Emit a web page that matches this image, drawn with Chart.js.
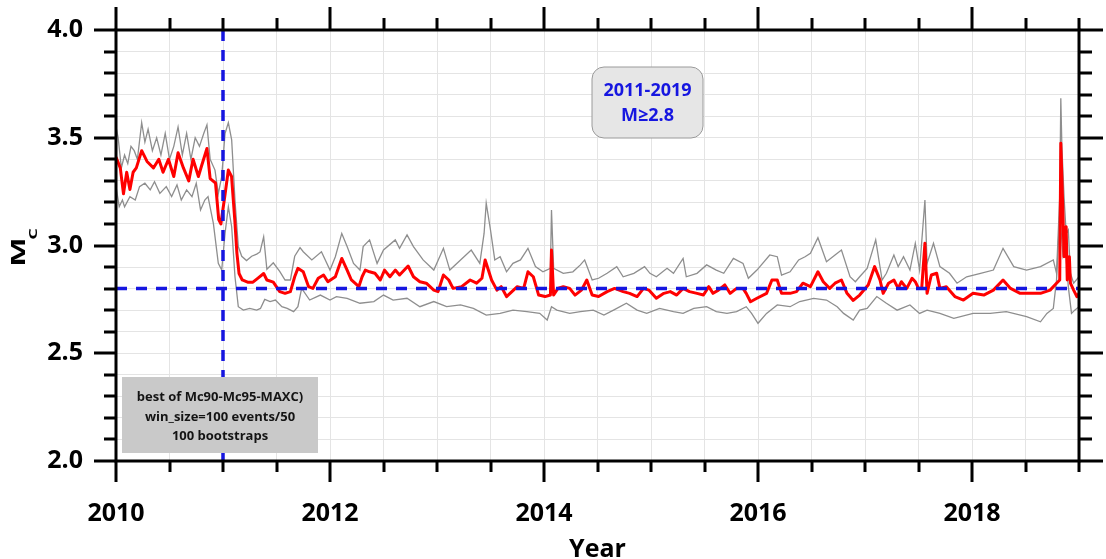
<!DOCTYPE html>
<html>
<head>
<meta charset="utf-8">
<title>Mc time series 2010-2019</title>
<script src="https://cdn.jsdelivr.net/npm/chart.js@4.4.1/dist/chart.umd.min.js"></script>
<style>
  html, body { margin: 0; padding: 0; background: #ffffff; }
  canvas { display: block; }
</style>
</head>
<body>
<canvas id="mcChart" width="1106" height="559"></canvas>
<script>
// [year, Mc]
const mcSeries = [
  [2010.00, 3.41], [2010.04, 3.36], [2010.07, 3.24], [2010.10, 3.34], [2010.13, 3.26], [2010.16, 3.34],
  [2010.19, 3.36], [2010.24, 3.44], [2010.29, 3.39], [2010.35, 3.36], [2010.40, 3.40], [2010.44, 3.34],
  [2010.49, 3.40], [2010.54, 3.32], [2010.58, 3.43], [2010.63, 3.36], [2010.68, 3.30], [2010.72, 3.40],
  [2010.77, 3.32], [2010.80, 3.37], [2010.85, 3.45], [2010.88, 3.31], [2010.93, 3.29], [2010.96, 3.12],
  [2010.98, 3.10], [2011.02, 3.24], [2011.05, 3.35], [2011.08, 3.32], [2011.11, 3.12], [2011.13, 2.965],
  [2011.15, 2.87], [2011.18, 2.84], [2011.23, 2.83], [2011.28, 2.83], [2011.33, 2.85], [2011.38, 2.87],
  [2011.41, 2.84], [2011.47, 2.83], [2011.53, 2.786], [2011.58, 2.778], [2011.63, 2.786], [2011.67, 2.855],
  [2011.70, 2.894], [2011.75, 2.878], [2011.80, 2.809], [2011.84, 2.801], [2011.89, 2.848], [2011.94, 2.863],
  [2011.98, 2.832], [2012.05, 2.855], [2012.11, 2.94], [2012.16, 2.886], [2012.20, 2.84], [2012.27, 2.809],
  [2012.30, 2.855], [2012.33, 2.886], [2012.37, 2.878], [2012.42, 2.871], [2012.47, 2.84], [2012.51, 2.886],
  [2012.56, 2.855], [2012.61, 2.886], [2012.65, 2.863], [2012.73, 2.905], [2012.78, 2.855], [2012.84, 2.832],
  [2012.90, 2.825], [2012.97, 2.793], [2013.01, 2.786], [2013.06, 2.863], [2013.11, 2.84], [2013.15, 2.801],
  [2013.23, 2.809], [2013.31, 2.84], [2013.37, 2.825], [2013.42, 2.848], [2013.45, 2.933], [2013.48, 2.886],
  [2013.51, 2.84], [2013.56, 2.793], [2013.60, 2.809], [2013.65, 2.763], [2013.70, 2.786], [2013.75, 2.809],
  [2013.81, 2.801], [2013.85, 2.878], [2013.90, 2.855], [2013.95, 2.77], [2014.01, 2.763], [2014.06, 2.77],
  [2014.07, 2.979], [2014.09, 2.77], [2014.13, 2.801], [2014.18, 2.809], [2014.24, 2.801], [2014.29, 2.77],
  [2014.35, 2.793], [2014.40, 2.84], [2014.45, 2.77], [2014.51, 2.763], [2014.59, 2.786], [2014.66, 2.801],
  [2014.74, 2.786], [2014.80, 2.778], [2014.87, 2.763], [2014.93, 2.801], [2014.98, 2.793], [2015.05, 2.755],
  [2015.12, 2.778], [2015.18, 2.786], [2015.24, 2.77], [2015.30, 2.801], [2015.36, 2.786], [2015.43, 2.778],
  [2015.49, 2.77], [2015.54, 2.809], [2015.58, 2.778], [2015.63, 2.793], [2015.69, 2.817], [2015.74, 2.778],
  [2015.80, 2.801], [2015.86, 2.801], [2015.89, 2.778], [2015.93, 2.739], [2015.99, 2.755], [2016.08, 2.778],
  [2016.13, 2.84], [2016.18, 2.84], [2016.22, 2.778], [2016.30, 2.778], [2016.36, 2.786], [2016.42, 2.825],
  [2016.49, 2.809], [2016.56, 2.878], [2016.61, 2.832], [2016.67, 2.801], [2016.72, 2.825], [2016.78, 2.84],
  [2016.83, 2.78], [2016.89, 2.745], [2016.95, 2.77], [2017.03, 2.817], [2017.09, 2.902], [2017.14, 2.84],
  [2017.17, 2.778], [2017.22, 2.825], [2017.27, 2.84], [2017.31, 2.801], [2017.34, 2.832], [2017.39, 2.801],
  [2017.44, 2.848], [2017.47, 2.832], [2017.50, 2.801], [2017.53, 2.801], [2017.56, 3.01], [2017.58, 2.778],
  [2017.62, 2.863], [2017.67, 2.871], [2017.70, 2.801], [2017.76, 2.809], [2017.84, 2.763], [2017.92, 2.747],
  [2018.01, 2.778], [2018.11, 2.77], [2018.20, 2.793], [2018.29, 2.84], [2018.36, 2.801], [2018.45, 2.778],
  [2018.54, 2.778], [2018.64, 2.778], [2018.73, 2.793], [2018.79, 2.825], [2018.82, 2.84], [2018.83, 3.474],
  [2018.85, 3.149], [2018.86, 2.948], [2018.88, 3.087], [2018.89, 2.84], [2018.91, 2.948], [2018.92, 2.825],
  [2018.95, 2.793], [2018.98, 2.763], [2019.00, 2.778]
];

// upper bound (Mc + std)
const upperSeries = [
  [2010.00, 3.55], [2010.02, 3.50], [2010.05, 3.36], [2010.08, 3.42], [2010.11, 3.38], [2010.14, 3.46],
  [2010.17, 3.44], [2010.20, 3.40], [2010.24, 3.57], [2010.27, 3.48], [2010.30, 3.54], [2010.34, 3.44],
  [2010.38, 3.50], [2010.42, 3.42], [2010.46, 3.52], [2010.50, 3.40], [2010.54, 3.46], [2010.58, 3.55],
  [2010.62, 3.42], [2010.66, 3.52], [2010.70, 3.40], [2010.74, 3.50], [2010.78, 3.46], [2010.82, 3.52],
  [2010.85, 3.56], [2010.88, 3.40], [2010.925, 3.35], [2010.956, 3.24], [2010.988, 3.32], [2011.019, 3.52],
  [2011.05, 3.57], [2011.081, 3.49], [2011.112, 3.21], [2011.143, 2.995], [2011.175, 2.95], [2011.22, 2.93],
  [2011.268, 2.95], [2011.315, 2.96], [2011.346, 2.97], [2011.38, 3.04], [2011.41, 2.89], [2011.47, 2.92],
  [2011.53, 2.88], [2011.58, 2.84], [2011.63, 2.84], [2011.67, 2.95], [2011.72, 2.99], [2011.75, 2.971],
  [2011.83, 2.933], [2011.92, 2.971], [2012.00, 2.886], [2012.05, 2.948], [2012.11, 3.056], [2012.16, 2.995],
  [2012.22, 2.917], [2012.28, 2.886], [2012.31, 2.995], [2012.37, 3.026], [2012.44, 2.917], [2012.50, 2.979],
  [2012.61, 3.026], [2012.65, 2.987], [2012.72, 3.049], [2012.78, 2.995], [2012.87, 2.933], [2012.97, 2.886],
  [2013.06, 2.987], [2013.12, 2.886], [2013.22, 2.933], [2013.32, 2.979], [2013.40, 2.917], [2013.44, 3.056],
  [2013.46, 3.196], [2013.50, 3.072], [2013.54, 2.933], [2013.59, 2.948], [2013.65, 2.878], [2013.71, 2.917],
  [2013.78, 2.933], [2013.85, 2.987], [2013.92, 2.902], [2013.99, 2.878], [2014.06, 2.894], [2014.07, 3.165],
  [2014.09, 2.894], [2014.18, 2.871], [2014.27, 2.878], [2014.34, 2.91], [2014.38, 2.933], [2014.45, 2.84],
  [2014.51, 2.848], [2014.59, 2.871], [2014.68, 2.902], [2014.74, 2.855], [2014.84, 2.871], [2014.94, 2.902],
  [2014.99, 2.871], [2015.05, 2.855], [2015.15, 2.894], [2015.21, 2.871], [2015.30, 2.94], [2015.33, 2.855],
  [2015.43, 2.871], [2015.52, 2.91], [2015.61, 2.886], [2015.68, 2.871], [2015.77, 2.94], [2015.86, 2.917],
  [2015.91, 2.848], [2015.99, 2.886], [2016.11, 2.956], [2016.18, 2.948], [2016.22, 2.863], [2016.30, 2.878],
  [2016.38, 2.933], [2016.44, 2.948], [2016.49, 2.964], [2016.56, 3.036], [2016.64, 2.925], [2016.72, 2.956],
  [2016.78, 2.979], [2016.86, 2.855], [2016.91, 2.832], [2016.95, 2.855], [2017.02, 2.894], [2017.10, 3.026],
  [2017.16, 2.84], [2017.20, 2.871], [2017.27, 2.956], [2017.31, 2.902], [2017.36, 2.948], [2017.42, 2.886],
  [2017.47, 3.01], [2017.51, 2.886], [2017.56, 3.211], [2017.58, 2.917], [2017.64, 3.01], [2017.70, 2.902],
  [2017.79, 2.871], [2017.86, 2.825], [2017.95, 2.855], [2018.08, 2.871], [2018.20, 2.886], [2018.29, 2.987],
  [2018.39, 2.902], [2018.51, 2.886], [2018.64, 2.902], [2018.76, 2.933], [2018.79, 2.871], [2018.82, 3.227],
  [2018.83, 3.683], [2018.84, 3.459], [2018.86, 3.227], [2018.88, 3.056], [2018.90, 3.072], [2018.92, 2.871],
  [2018.95, 2.825], [2019.00, 2.855]
];

// lower bound (Mc - std)
const lowerSeries = [
  [2010.00, 3.273], [2010.03, 3.18], [2010.06, 3.211], [2010.08, 3.18], [2010.13, 3.227], [2010.18, 3.211],
  [2010.22, 3.273], [2010.27, 3.289], [2010.32, 3.258], [2010.36, 3.296], [2010.41, 3.242], [2010.47, 3.273],
  [2010.52, 3.227], [2010.57, 3.281], [2010.61, 3.211], [2010.66, 3.258], [2010.71, 3.227], [2010.75, 3.289],
  [2010.79, 3.165], [2010.83, 3.211], [2010.86, 3.227], [2010.91, 3.103], [2010.956, 2.917], [2010.988, 2.886],
  [2011.019, 3.056], [2011.05, 3.18], [2011.081, 3.087], [2011.112, 2.855], [2011.143, 2.716], [2011.19, 2.70],
  [2011.25, 2.708], [2011.315, 2.70], [2011.35, 2.708], [2011.39, 2.75], [2011.44, 2.74], [2011.49, 2.747],
  [2011.55, 2.716], [2011.60, 2.708], [2011.66, 2.693], [2011.70, 2.716], [2011.735, 2.801], [2011.81, 2.747],
  [2011.91, 2.77], [2012.00, 2.747], [2012.06, 2.763], [2012.16, 2.755], [2012.28, 2.732], [2012.41, 2.74],
  [2012.50, 2.77], [2012.59, 2.747], [2012.72, 2.755], [2012.84, 2.716], [2012.97, 2.74], [2013.09, 2.716],
  [2013.22, 2.724], [2013.34, 2.708], [2013.46, 2.677], [2013.59, 2.685], [2013.71, 2.70], [2013.84, 2.693],
  [2013.96, 2.685], [2014.03, 2.654], [2014.07, 2.716], [2014.12, 2.70], [2014.24, 2.685], [2014.34, 2.693],
  [2014.46, 2.70], [2014.56, 2.677], [2014.65, 2.70], [2014.77, 2.732], [2014.87, 2.70], [2014.96, 2.685],
  [2015.08, 2.708], [2015.21, 2.693], [2015.30, 2.685], [2015.40, 2.708], [2015.52, 2.716], [2015.61, 2.693],
  [2015.71, 2.685], [2015.80, 2.693], [2015.89, 2.716], [2015.94, 2.685], [2016.00, 2.639], [2016.08, 2.685],
  [2016.18, 2.724], [2016.30, 2.716], [2016.39, 2.74], [2016.52, 2.755], [2016.64, 2.747], [2016.74, 2.716],
  [2016.80, 2.685], [2016.89, 2.654], [2016.95, 2.70], [2017.02, 2.708], [2017.11, 2.763], [2017.20, 2.732],
  [2017.30, 2.70], [2017.42, 2.724], [2017.51, 2.685], [2017.58, 2.70], [2017.70, 2.685], [2017.83, 2.662],
  [2018.01, 2.685], [2018.17, 2.685], [2018.32, 2.693], [2018.51, 2.67], [2018.64, 2.646], [2018.70, 2.685],
  [2018.76, 2.708], [2018.79, 2.84], [2018.82, 3.149], [2018.85, 2.956], [2018.87, 3.01], [2018.90, 2.809],
  [2018.93, 2.685], [2018.96, 2.70], [2019.00, 2.716]
];

const yearRange = [2010, 2019];
const magRange = [2.0, 4.0];
const labelledYears = [2010, 2012, 2014, 2016, 2018];
const cutoffYear = 2011;
const completenessMag = 2.8;
const periodLines = ['2011-2019', 'M\u22652.8'];
const methodLines = ['best of Mc90-Mc95-MAXC)', 'win_size=100 events/50', '100 bootstraps'];

const FONT = '"Open Sans", "DejaVu Sans", sans-serif';
const BLUE = '#1616e0';

function toPoints(series) {
  return series.map(p => ({ x: p[0], y: p[1] }));
}

/**
 * Frame, outer ticks, axis titles and the two text boxes
 */
const framePlugin = {
  id: 'frame',
  afterDatasetsDraw(chart) {
    const ctx = chart.ctx;
    ctx.save();

    // period box (rounded, light gray)
    const bx = 592, by = 67, bw = 111, bh = 71, r = 12;
    ctx.beginPath();
    ctx.moveTo(bx + r, by);
    ctx.arcTo(bx + bw, by, bx + bw, by + bh, r);
    ctx.arcTo(bx + bw, by + bh, bx, by + bh, r);
    ctx.arcTo(bx, by + bh, bx, by, r);
    ctx.arcTo(bx, by, bx + bw, by, r);
    ctx.closePath();
    ctx.fillStyle = '#e6e6e6';
    ctx.fill();
    ctx.strokeStyle = '#9a9a9a';
    ctx.lineWidth = 1;
    ctx.stroke();

    ctx.fillStyle = BLUE;
    ctx.font = 'bold 18px ' + FONT;
    ctx.textAlign = 'center';
    ctx.textBaseline = 'middle';
    ctx.fillText(periodLines[0], bx + bw / 2, 91);
    ctx.fillText(periodLines[1], bx + bw / 2, 116);

    // method box
    ctx.fillStyle = '#c9c9c9';
    ctx.fillRect(122, 377, 196, 76);
    ctx.fillStyle = '#141414';
    ctx.font = 'bold 13px ' + FONT;
    ctx.fillText(methodLines[0], 220, 397);
    ctx.fillText(methodLines[1], 220, 417);
    ctx.fillText(methodLines[2], 220, 436);

    ctx.restore();
  },
  afterDraw(chart) {
    const ctx = chart.ctx;
    const area = chart.chartArea;
    const xs = chart.scales.x;
    const ys = chart.scales.y;
    ctx.save();
    ctx.strokeStyle = '#000';
    ctx.lineWidth = 3;
    ctx.lineCap = 'butt';

    ctx.strokeRect(area.left, area.top, area.right - area.left, area.bottom - area.top);

    ctx.beginPath();
    // half-year ticks on bottom and top
    for (let i = 0; i <= (yearRange[1] - yearRange[0]) * 2; i++) {
      const v = yearRange[0] + i / 2;
      const px = Math.round(xs.getPixelForValue(v));
      const major = labelledYears.includes(v);
      ctx.moveTo(px, area.bottom);
      ctx.lineTo(px, area.bottom + (major ? 21 : 11));
      ctx.moveTo(px, area.top);
      ctx.lineTo(px, area.top - (major ? 23 : 12));
    }
    // 0.1 ticks on left and right
    for (let i = 0; i <= 20; i++) {
      const v = magRange[0] + i / 10;
      const py = Math.round(ys.getPixelForValue(v));
      const major = i % 5 === 0;
      ctx.moveTo(area.left, py);
      ctx.lineTo(area.left - (major ? 22 : 12), py);
      ctx.moveTo(area.right, py);
      ctx.lineTo(area.right + (major ? 24 : 13), py);
    }
    ctx.stroke();

    // x title
    ctx.fillStyle = '#000';
    ctx.font = 'bold 25px ' + FONT;
    ctx.textAlign = 'center';
    ctx.textBaseline = 'alphabetic';
    ctx.fillText('Year', (area.left + area.right) / 2, 557);

    // y title: M with subscript C
    ctx.translate(25, 252);
    ctx.rotate(-Math.PI / 2);
    ctx.scale(1.3, 0.8);
    ctx.font = 'bold 24px ' + FONT;
    ctx.textAlign = 'center';
    ctx.fillText('M', 0, 0);
    ctx.font = 'bold 14px ' + FONT;
    ctx.textAlign = 'left';
    ctx.fillText('C', 9.5, 15);

    ctx.restore();
  }
};

const ctx = document.getElementById('mcChart');

new Chart(ctx, {
  type: 'line',
  data: {
    datasets: [
      {
        label: 'Mc 2.8',
        data: [{ x: yearRange[0], y: completenessMag }, { x: yearRange[1], y: completenessMag }],
        borderColor: BLUE,
        borderWidth: 3.5,
        borderDash: [11, 9],
        pointRadius: 0
      },
      {
        label: '2011',
        data: [{ x: cutoffYear, y: magRange[0] }, { x: cutoffYear, y: magRange[1] }],
        borderColor: BLUE,
        borderWidth: 3.5,
        borderDash: [11, 9],
        pointRadius: 0
      },
      {
        label: 'Mc',
        data: toPoints(mcSeries),
        borderColor: '#ff0000',
        borderWidth: 3,
        borderJoinStyle: 'round',
        pointRadius: 0,
        tension: 0
      },
      {
        label: 'Mc + std',
        data: toPoints(upperSeries),
        borderColor: '#8e8e8e',
        borderWidth: 1.3,
        pointRadius: 0,
        tension: 0
      },
      {
        label: 'Mc - std',
        data: toPoints(lowerSeries),
        borderColor: '#8e8e8e',
        borderWidth: 1.3,
        pointRadius: 0,
        tension: 0
      }
    ]
  },
  options: {
    responsive: false,
    animation: false,
    layout: { padding: { top: 30, right: 27, left: 0, bottom: 0 } },
    plugins: {
      legend: { display: false },
      tooltip: { enabled: false }
    },
    scales: {
      x: {
        type: 'linear',
        min: yearRange[0],
        max: yearRange[1],
        border: { display: false },
        // invisible tick marks only push the labels away from the frame
        grid: { color: '#e4e4e4', lineWidth: 1, drawTicks: true, tickLength: 38, tickColor: 'rgba(0,0,0,0)' },
        ticks: {
          stepSize: 0.5,
          autoSkip: false,
          maxRotation: 0,
          padding: 0,
          color: '#000',
          font: { family: FONT, size: 25, weight: 'bold' },
          callback: v => labelledYears.includes(v) ? String(v) : ''
        },
        afterFit: scale => { scale.height = 98; }
      },
      y: {
        min: magRange[0],
        max: magRange[1],
        border: { display: false },
        grid: { color: '#e4e4e4', lineWidth: 1, drawTicks: true, tickLength: 33, tickColor: 'rgba(0,0,0,0)' },
        ticks: {
          stepSize: 0.1,
          autoSkip: false,
          padding: 0,
          color: '#000',
          font: { family: FONT, size: 25, weight: 'bold' },
          callback: v => Math.abs(v * 2 - Math.round(v * 2)) < 1e-6 ? v.toFixed(1) : ''
        },
        afterFit: scale => { scale.width = 116; }
      }
    }
  },
  plugins: [framePlugin]
});
</script>
</body>
</html>
